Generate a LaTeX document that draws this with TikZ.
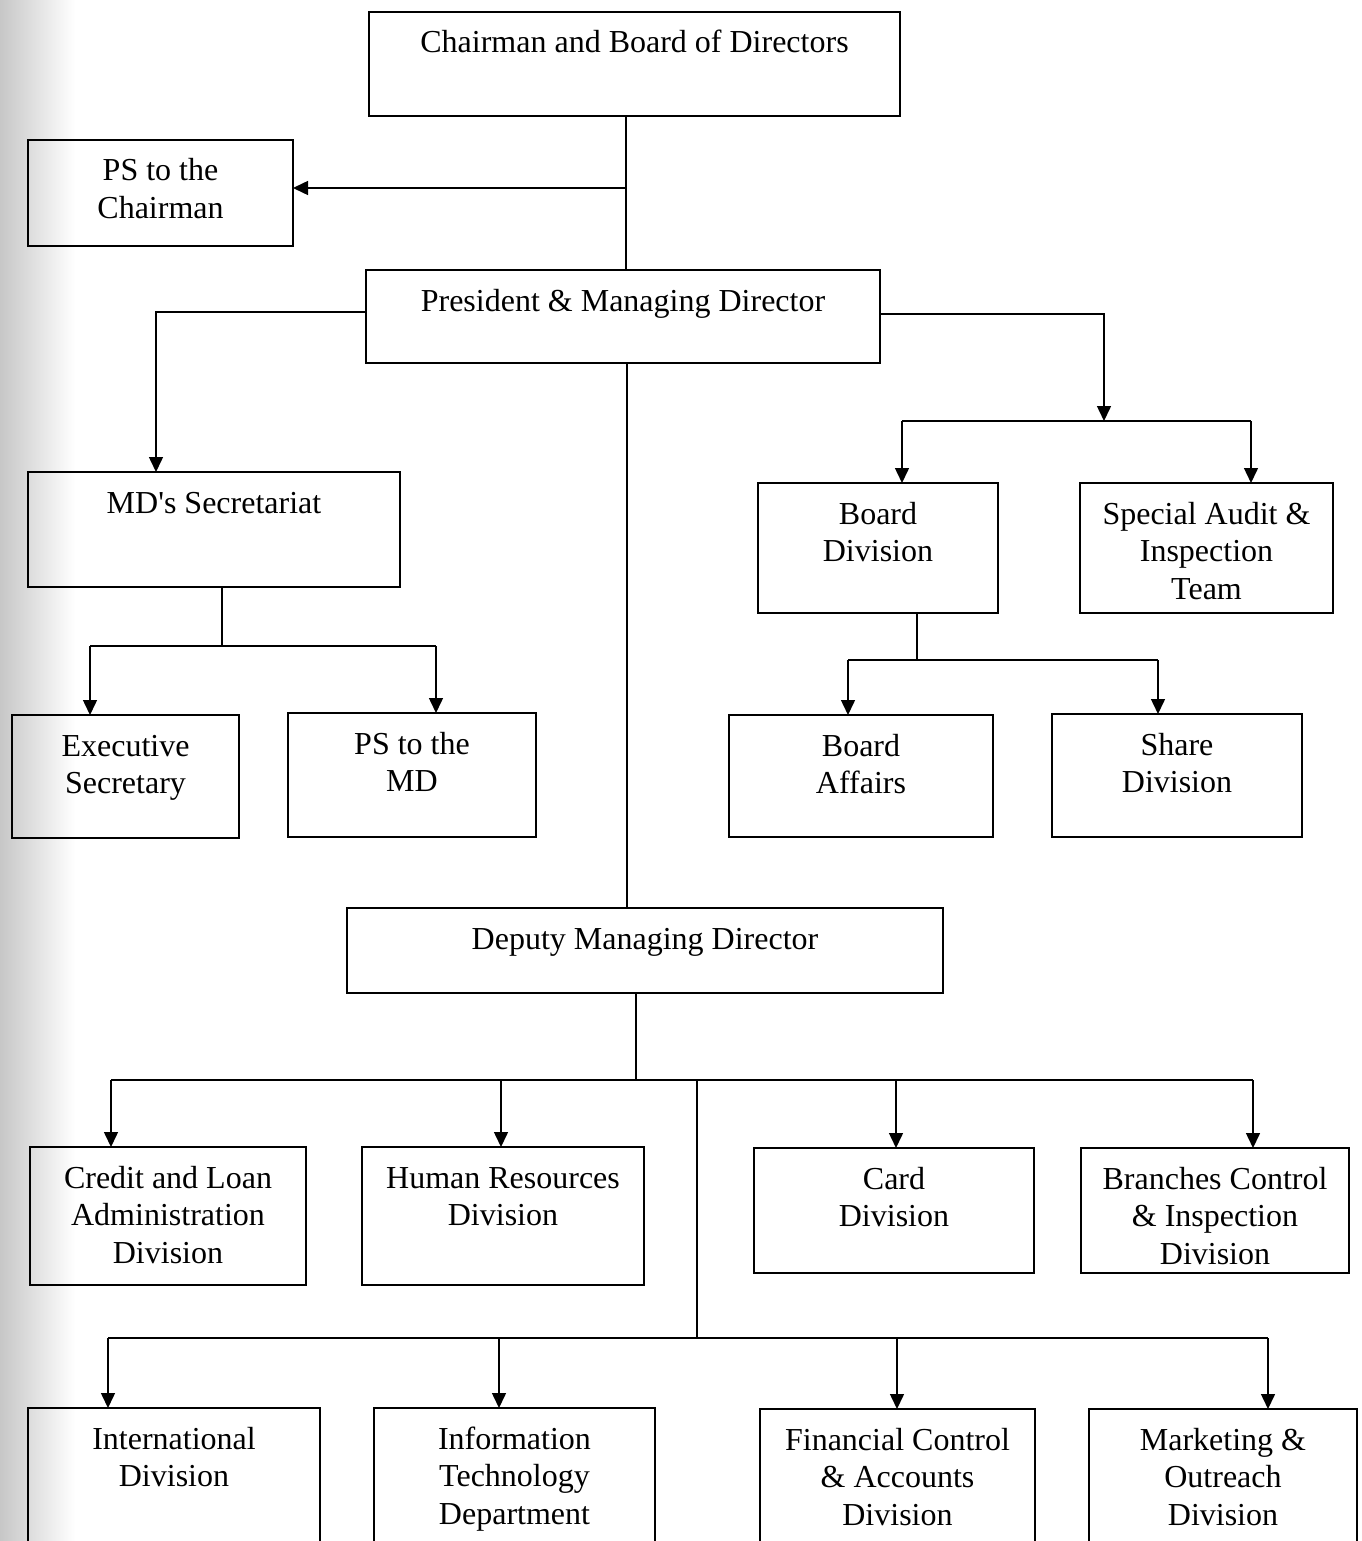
\documentclass[tikz,border=0pt]{standalone}
\usepackage{fontspec}
\setmainfont{Liberation Serif}
\newfontfamily\rawserif{Liberation Serif}
\usetikzlibrary{arrows.meta}
\tikzset{
  box/.style={draw, line width=1.5pt, rectangle, inner sep=0pt, outer sep=0pt},
  txt/.style={align=center, inner sep=0pt, font=\fontsize{32}{37.5}\selectfont},
  conn/.style={line width=1.5pt},
  arr/.style={conn, -{Triangle[length=15pt,width=14pt]}}
}
% #1 name, #2-#5 corners, #6 extra lines count, #7 text
\newcommand\obox[7]{%
  \node[box, minimum width={#4-#2}, minimum height={#5-#3}] (#1) at ({(#2+#4)/2},{(#3+#5)/2}) {};
  \node[txt, anchor=base] (#1-t) at ({(#2+#4)/2},{#3+41+#6*37.5}) {#7};}
\begin{document}
\begin{tikzpicture}[x=1pt,y=-1pt]
\useasboundingbox (0,0) rectangle (1361,1541);
\shade[left color=black!22, right color=white] (0,0) rectangle (75,1541);
\begin{scope}
\clip (0,0) rectangle (1361,1541);
\obox{chair}{369}{12}{900}{116}{0}{Chairman and Board of Directors}
\obox{psch}{28}{140}{293}{246}{1}{PS to the\\Chairman}
\obox{pres}{366}{270}{880}{363}{0}{President \& Managing Director}
\obox{mdsec}{28}{472}{400}{587}{0}{MD{\rawserif'}s Secretariat}
\obox{exec}{12}{715}{239}{838}{1}{Executive\\Secretary}
\obox{psmd}{288}{713}{536}{837}{1}{PS to the\\MD}
\obox{bdiv}{758}{483}{998}{613}{1}{Board\\Division}
\obox{audit}{1080}{483}{1333}{613}{2}{Special Audit \&\\Inspection\\Team}
\obox{baff}{729}{715}{993}{837}{1}{Board\\Affairs}
\obox{share}{1052}{714}{1302}{837}{1}{Share\\Division}
\obox{dmd}{347}{908}{943}{993}{0}{Deputy Managing Director}
\obox{credit}{30}{1147}{306}{1285}{2}{Credit and Loan\\Administration\\Division}
\obox{hr}{362}{1147}{644}{1285}{1}{Human Resources\\Division}
\obox{card}{754}{1148}{1034}{1273}{1}{Card\\Division}
\obox{branch}{1081}{1148}{1349}{1273}{2}{Branches Control\\\& Inspection\\Division}
\obox{intl}{28}{1408}{320}{1575}{1}{International\\Division}
\obox{it}{374}{1408}{655}{1575}{2}{Information\\Technology\\Department}
\obox{fin}{760}{1409}{1035}{1575}{2}{Financial Control\\\& Accounts\\Division}
\obox{mkt}{1089}{1409}{1357}{1575}{2}{Marketing \&\\Outreach\\Division}
\end{scope}
% chairman -> president, PS
\coordinate (j1) at (626,188);
\draw[conn] (chair.south -| j1) -- (pres.north -| j1);
\draw[arr] (j1) -- (j1 -| psch.east);
% president -> MD's secretariat
\coordinate (c1) at (156,312);
\draw[arr] (pres.west |- c1) -- (c1) -- (c1 |- mdsec.north);
% president -> right group
\coordinate (c2) at (1104,314);
\coordinate (c3) at (1104,421);
\draw[arr] (pres.east |- c2) -- (c2) -- (c3);
\coordinate (b1) at (902,421);
\coordinate (b2) at (1251,421);
\draw[conn] (b1) -- (b2);
\draw[arr] (b1) -- (b1 |- bdiv.north);
\draw[arr] (b2) -- (b2 |- audit.north);
% board division -> children
\coordinate (c4) at (917,660);
\coordinate (b3) at (848,660);
\coordinate (b4) at (1158,660);
\draw[conn] (bdiv.south -| c4) -- (c4);
\draw[conn] (b3) -- (b4);
\draw[arr] (b3) -- (b3 |- baff.north);
\draw[arr] (b4) -- (b4 |- share.north);
% MD's secretariat -> children
\coordinate (c5) at (222,646);
\coordinate (b5) at (90,646);
\coordinate (b6) at (436,646);
\draw[conn] (mdsec.south -| c5) -- (c5);
\draw[conn] (b5) -- (b6);
\draw[arr] (b5) -- (b5 |- exec.north);
\draw[arr] (b6) -- (b6 |- psmd.north);
% president -> deputy
\coordinate (c6) at (627,600);
\draw[conn] (pres.south -| c6) -- (dmd.north -| c6);
% deputy -> first row
\coordinate (c7) at (636,1080);
\draw[conn] (dmd.south -| c7) -- (c7);
\coordinate (r1) at (111,1080);
\coordinate (r2) at (501,1080);
\coordinate (r3) at (896,1080);
\coordinate (r4) at (1253,1080);
\draw[conn] (r1) -- (r4);
\draw[arr] (r1) -- (r1 |- credit.north);
\draw[arr] (r2) -- (r2 |- hr.north);
\draw[arr] (r3) -- (r3 |- card.north);
\draw[arr] (r4) -- (r4 |- branch.north);
% second row
\coordinate (c8) at (697,1080);
\coordinate (c9) at (697,1338);
\draw[conn] (c8) -- (c9);
\coordinate (s1) at (108,1338);
\coordinate (s2) at (499,1338);
\coordinate (s3) at (897,1338);
\coordinate (s4) at (1268,1338);
\draw[conn] (s1) -- (s4);
\draw[arr] (s1) -- (s1 |- intl.north);
\draw[arr] (s2) -- (s2 |- it.north);
\draw[arr] (s3) -- (s3 |- fin.north);
\draw[arr] (s4) -- (s4 |- mkt.north);
\end{tikzpicture}
\end{document}
